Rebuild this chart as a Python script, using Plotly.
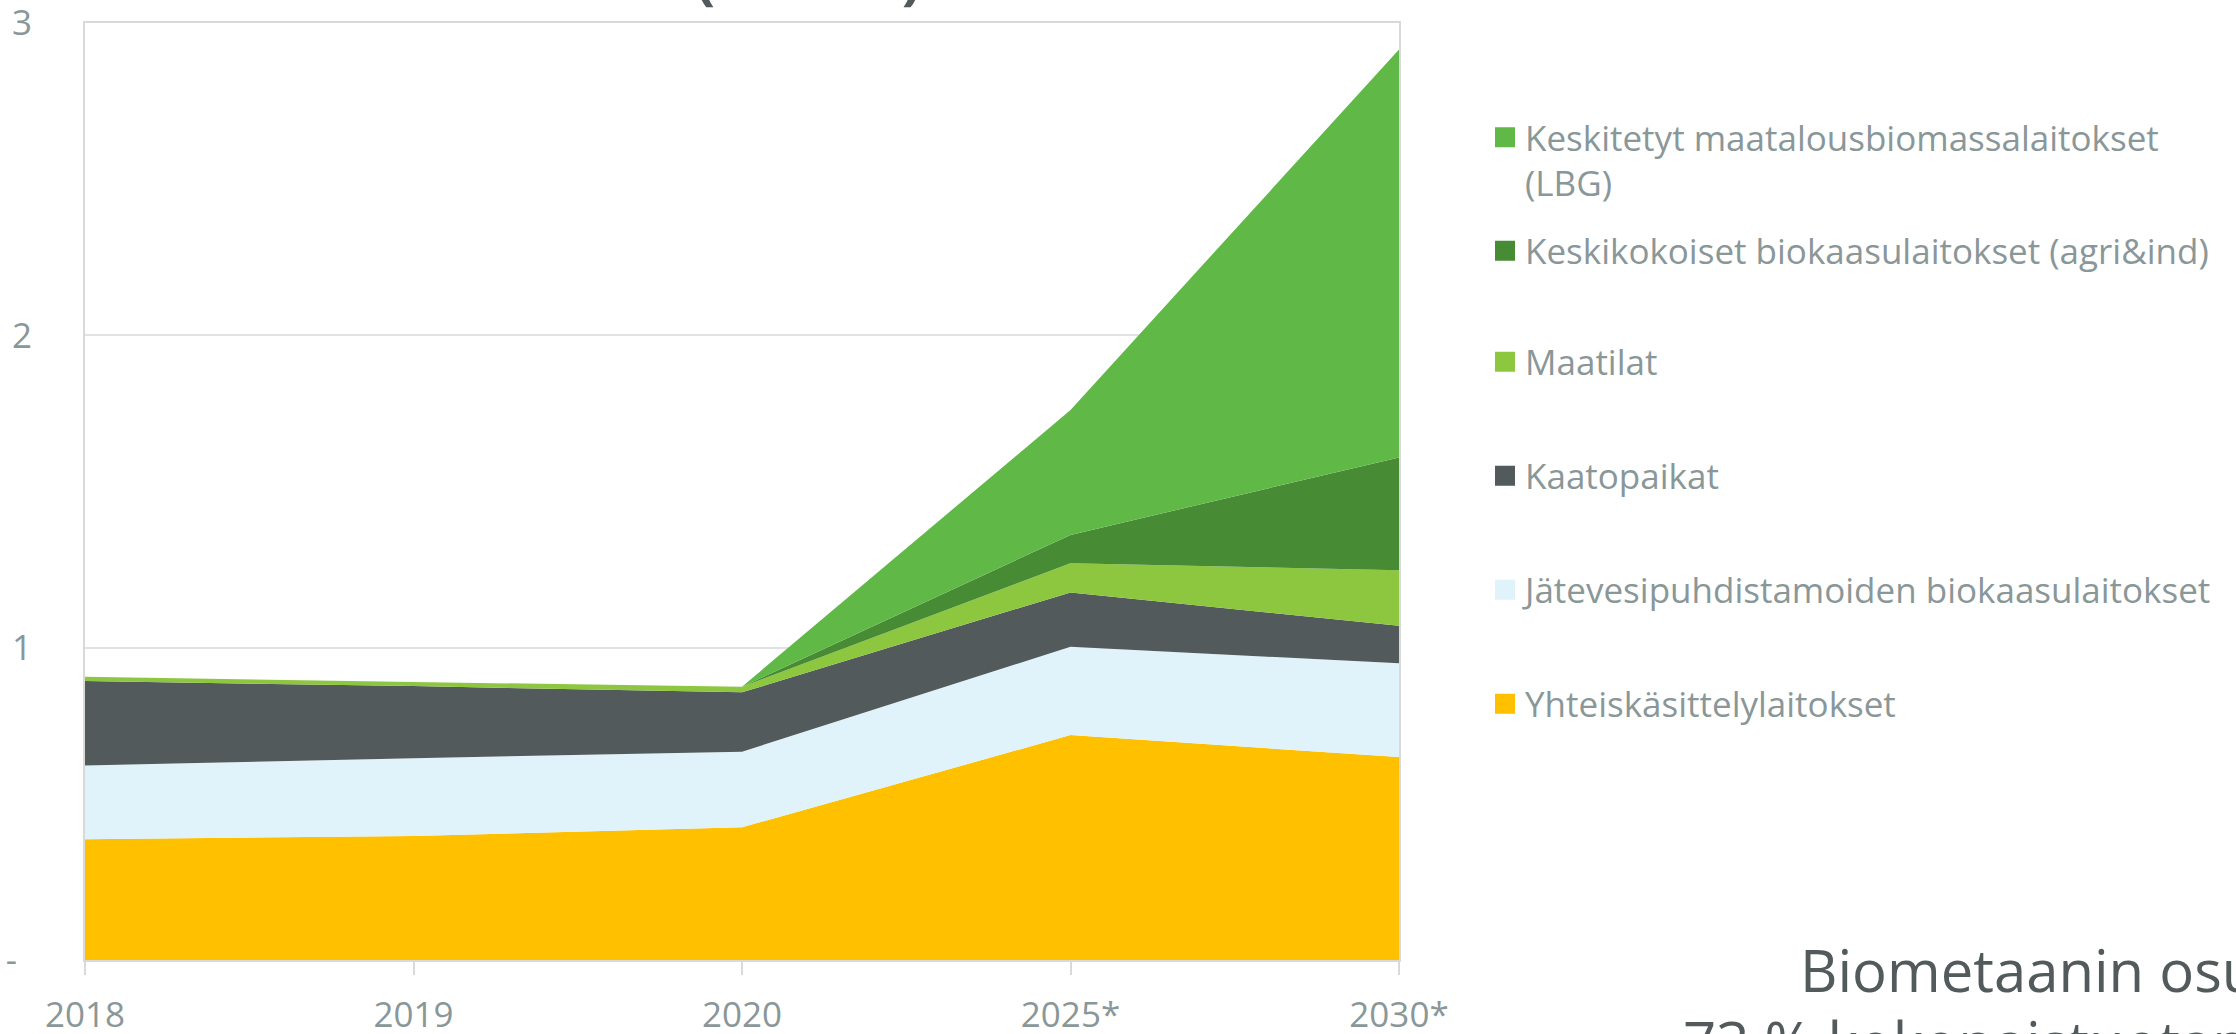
import plotly.graph_objects as go

# ---------------- data ----------------
years = ["2018", "2019", "2020", "2025*", "2030*"]
yhteiskasittely = [0.387, 0.397, 0.425, 0.720, 0.650]
jatevesi = [0.236, 0.249, 0.242, 0.283, 0.300]
kaatopaikat = [0.270, 0.231, 0.190, 0.174, 0.120]
maatilat = [0.014, 0.013, 0.018, 0.093, 0.178]
keskikokoiset = [0.0, 0.0, 0.0, 0.091, 0.361]
keskitetyt_lbg = [0.0, 0.0, 0.0, 0.400, 1.306]

series_names = [
    "Yhteiskäsittelylaitokset",
    "Jätevesipuhdistamoiden biokaasulaitokset",
    "Kaatopaikat",
    "Maatilat",
    "Keskikokoiset biokaasulaitokset (agri&ind)",
    "Keskitetyt maatalousbiomassalaitokset<br>(LBG)",
]
series_values = [yhteiskasittely, jatevesi, kaatopaikat, maatilat, keskikokoiset, keskitetyt_lbg]
series_colors = ["#ffc000", "#e0f3fa", "#525a5b", "#8dc63f", "#478c35", "#60b946"]

y_tickvals = [0, 1, 2, 3]
y_ticktext = ["-\u00a0\u2009", "1", "2", "3"]

# ---------------- layout geometry ----------------
W, H = 2236, 1034
L, R, T, B = 85, 1399, 23, 960  # plot area in pixels
PW, PH = R - L, B - T


def px(x):
    return (x - L) / PW


def py(y):
    return (B - y) / PH


FONT = "Open Sans"
GREY = "#8a9798"
DARK = "#525a5b"

fig = go.Figure()

# stacked areas
for name, vals, col in zip(series_names, series_values, series_colors):
    fig.add_trace(go.Scatter(
        x=years, y=vals, name=name, mode="none", stackgroup="one",
        fill="tonexty", fillcolor=col, line=dict(width=0),
        showlegend=False, legendgroup=name, hoverinfo="x+y+name",
    ))

# legend entries (one legend per item, positioned like the original)
legend_centers = {  # pixel y centre of each legend block
    5: 160, 4: 251, 3: 362, 2: 476, 1: 590, 0: 704,
}
legend_ids = {5: "legend", 4: "legend2", 3: "legend3", 2: "legend4", 1: "legend5", 0: "legend6"}
for i, (name, col) in enumerate(zip(series_names, series_colors)):
    fig.add_trace(go.Scatter(
        x=[None], y=[None], name=name, mode="markers",
        marker=dict(symbol="square", size=16, color=col, line=dict(width=4, color=col)),
        legendgroup=name, showlegend=True, legend=legend_ids[i],
    ))

legend_x = px(1485)
legend_common = dict(
    x=legend_x, xanchor="left", yanchor="middle", bgcolor="rgba(0,0,0,0)",
    font=dict(family=FONT, size=35, color=GREY), valign="top",
    borderwidth=0, itemclick=False, itemdoubleclick=False,
)
legend_layouts = {}
for i, lid in legend_ids.items():
    legend_layouts[lid] = dict(legend_common, y=py(legend_centers[i]))

fig.update_layout(
    width=W, height=H,
    margin=dict(l=L, r=W - R, t=T, b=H - B, autoexpand=False),
    paper_bgcolor="white", plot_bgcolor="white",
    font=dict(family=FONT, size=35, color=GREY),
    showlegend=True,
    **legend_layouts,
    xaxis=dict(
        type="category", categoryorder="array", categoryarray=years,
        range=[0, 4], showgrid=False, showline=True, linecolor="#d9d9d9",
        linewidth=2, mirror=True, ticks="outside", ticklen=13,
        tickcolor="#d9d9d9", tickwidth=2, ticklabelstandoff=10,
        tickfont=dict(family=FONT, size=35, color=GREY), zeroline=False,
    ),
    yaxis=dict(
        range=[0, 3], tickvals=y_tickvals, ticktext=y_ticktext,
        showgrid=True, gridcolor="#e2e2e2", gridwidth=2,
        showline=True, linecolor="#d9d9d9", linewidth=2, mirror=True,
        ticks="", ticklabelstandoff=44, zeroline=False,
        ticklabeloverflow="allow",
        tickfont=dict(family=FONT, size=35, color=GREY),
    ),
)

# cut-off title at the top of the slide
fig.add_annotation(
    xref="paper", yref="paper", x=px(924), y=py(17), xanchor="right", yanchor="bottom",
    text="<b>Biokaasun tuotanto (TWh/a)</b>", showarrow=False,
    font=dict(family=FONT, size=58, color=DARK),
)

# text at bottom right (cut by the slide edge)
fig.add_annotation(
    xref="paper", yref="paper", x=px(1798), y=py(1011), xanchor="left", yanchor="bottom",
    text="Biometaanin osuus", showarrow=False,
    font=dict(family=FONT, size=58, color=DARK),
)
fig.add_annotation(
    xref="paper", yref="paper", x=px(1681), y=py(1083), xanchor="left", yanchor="bottom",
    text="73 % kokonaistuotannosta", showarrow=False,
    font=dict(family=FONT, size=58, color=DARK),
)

fig.write_html(
    "out.html",
    config={"displayModeBar": False},
    post_script="document.body.style.margin='0px';document.body.style.overflow='hidden';",
)
